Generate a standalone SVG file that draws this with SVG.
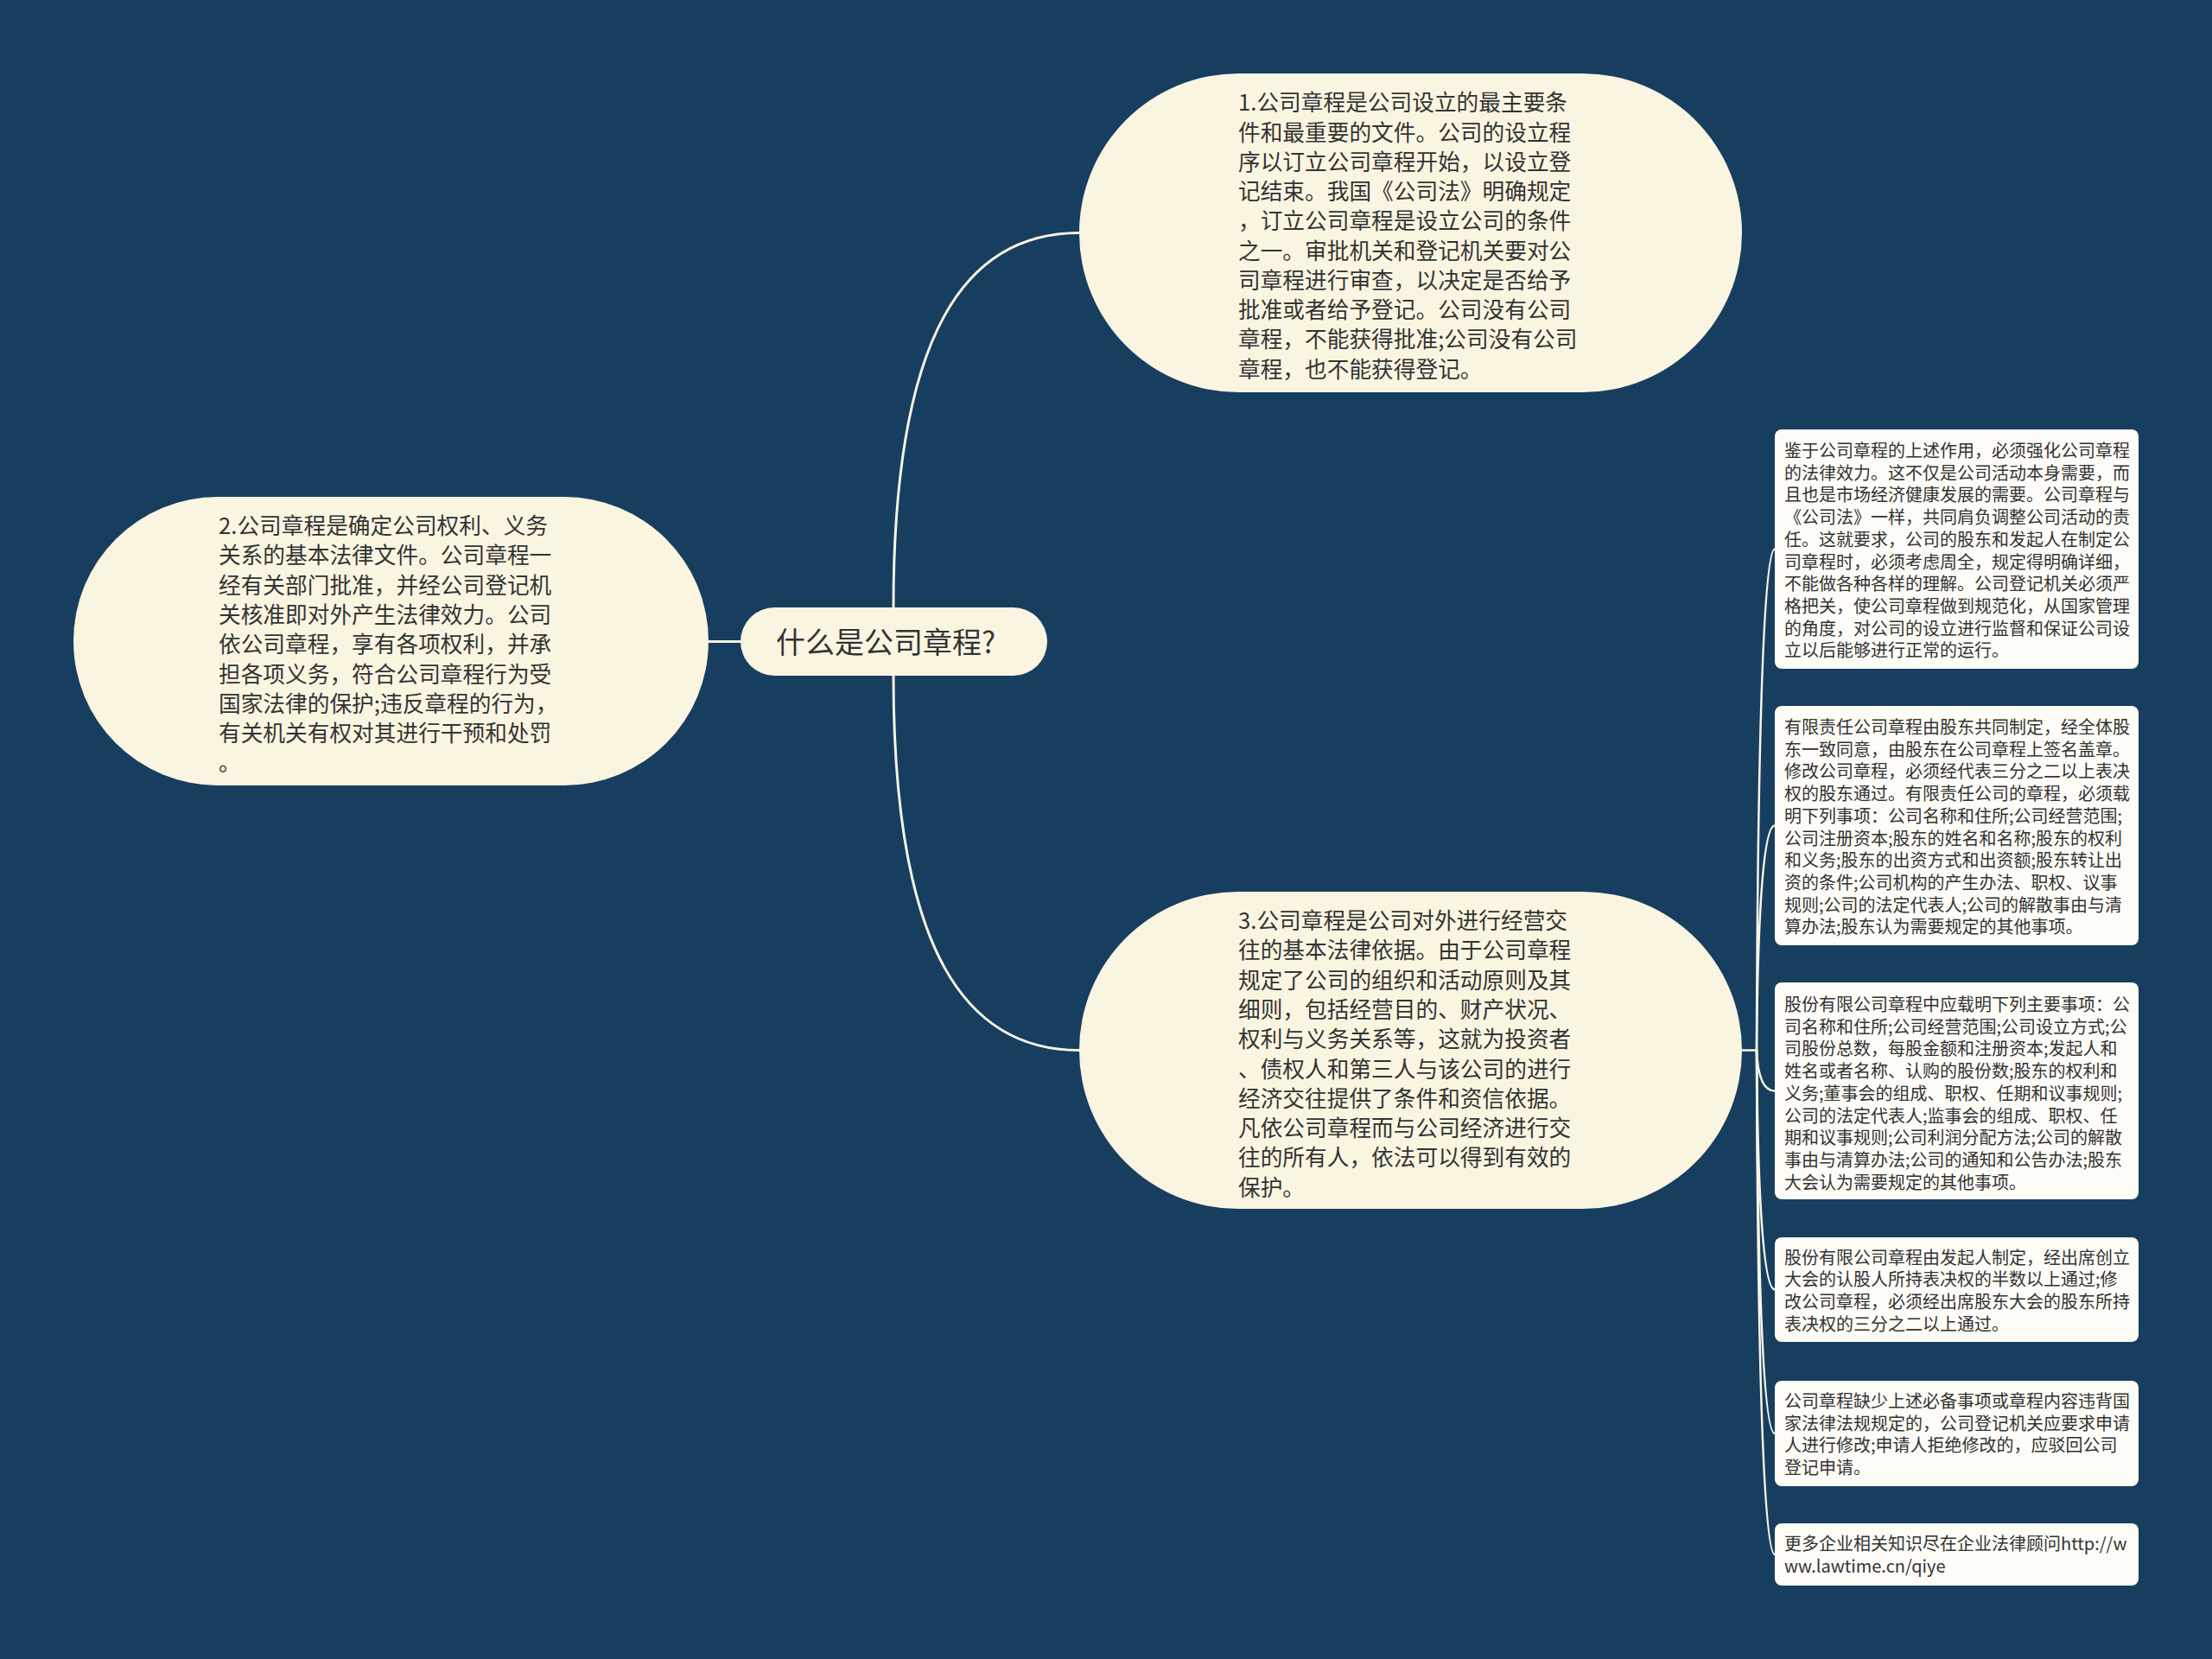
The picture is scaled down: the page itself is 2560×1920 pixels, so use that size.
<svg xmlns="http://www.w3.org/2000/svg" width="2560" height="1920" viewBox="0 0 2560 1920">
<style>
.bg{fill:#183e5f}
.node{fill:#faf5e1}
.leaf{fill:#fdfcf6}
.ln{fill:none;stroke:#f8f4e6;stroke-width:3;stroke-linecap:round}
.lf{fill:none;stroke:#f8f4e6;stroke-width:2.5;stroke-linecap:round}
text{font-family:"Noto Sans CJK SC","Noto Sans",sans-serif;fill:#333333}
.t26{font-size:25.7px}
.t34{font-size:34px}
.t20{font-size:20px}
</style>
<rect class="bg" x="0" y="0" width="2560" height="1920"/>
<g id="connectors">
<path class="ln" d="M1034,743 L1034,703 C1034,380 1120,269.5 1249,269.5"/>
<path class="ln" d="M1034,743 L1034,782 C1034,1105 1120,1215.5 1249,1215.5"/>
<path class="ln" d="M820,742.5 L857,742.5"/>
<path class="lf" d="M2016,1215.5 L2033,1215.5"/>
<path class="lf" d="M2033,1215.5 C2034,925 2039,635.5 2054,635.5"/>
<path class="lf" d="M2033,1215.5 C2034,1085 2039,955.5 2054,955.5"/>
<path class="lf" d="M2033,1215.5 C2034,1239 2039,1262.5 2054,1262.5"/>
<path class="lf" d="M2033,1215.5 C2034,1354 2039,1492.5 2054,1492.5"/>
<path class="lf" d="M2033,1215.5 C2034,1437 2039,1659 2054,1659"/>
<path class="lf" d="M2033,1215.5 C2034,1507 2039,1799 2054,1799"/>
</g>
<g id="root">
<rect class="node" x="857" y="703" width="355" height="79" rx="39.5"/>
<text class="t34" x="898" y="756">什么是公司章程?</text>
</g>
<g id="n1">
<rect class="node" x="1249" y="85" width="767" height="369" rx="184.5"/>
<text class="t26">
<tspan x="1433" y="128.3">1.公司章程是公司设立的最主要条</tspan>
<tspan x="1433" y="162.6">件和最重要的文件。公司的设立程</tspan>
<tspan x="1433" y="196.8">序以订立公司章程开始，以设立登</tspan>
<tspan x="1433" y="231.1">记结束。我国《公司法》明确规定</tspan>
<tspan x="1433" y="265.3">，订立公司章程是设立公司的条件</tspan>
<tspan x="1433" y="299.6">之一。审批机关和登记机关要对公</tspan>
<tspan x="1433" y="333.9">司章程进行审查，以决定是否给予</tspan>
<tspan x="1433" y="368.1">批准或者给予登记。公司没有公司</tspan>
<tspan x="1433" y="402.4">章程，不能获得批准;公司没有公司</tspan>
<tspan x="1433" y="436.6">章程，也不能获得登记。</tspan>
</text>
</g>
<g id="n2">
<rect class="node" x="85" y="575" width="735" height="334" rx="167"/>
<text class="t26">
<tspan x="253" y="618">2.公司章程是确定公司权利、义务</tspan>
<tspan x="253" y="652.3">关系的基本法律文件。公司章程一</tspan>
<tspan x="253" y="686.6">经有关部门批准，并经公司登记机</tspan>
<tspan x="253" y="720.9">关核准即对外产生法律效力。公司</tspan>
<tspan x="253" y="755.2">依公司章程，享有各项权利，并承</tspan>
<tspan x="253" y="789.5">担各项义务，符合公司章程行为受</tspan>
<tspan x="253" y="823.8">国家法律的保护;违反章程的行为，</tspan>
<tspan x="253" y="858.1">有关机关有权对其进行干预和处罚</tspan>
<tspan x="253" y="892.4">。</tspan>
</text>
</g>
<g id="n3">
<rect class="node" x="1249" y="1032" width="767" height="367" rx="183.5"/>
<text class="t26">
<tspan x="1433" y="1075">3.公司章程是公司对外进行经营交</tspan>
<tspan x="1433" y="1109.3">往的基本法律依据。由于公司章程</tspan>
<tspan x="1433" y="1143.6">规定了公司的组织和活动原则及其</tspan>
<tspan x="1433" y="1177.9">细则，包括经营目的、财产状况、</tspan>
<tspan x="1433" y="1212.2">权利与义务关系等，这就为投资者</tspan>
<tspan x="1433" y="1246.5">、债权人和第三人与该公司的进行</tspan>
<tspan x="1433" y="1280.8">经济交往提供了条件和资信依据。</tspan>
<tspan x="1433" y="1315.1">凡依公司章程而与公司经济进行交</tspan>
<tspan x="1433" y="1349.4">往的所有人，依法可以得到有效的</tspan>
<tspan x="1433" y="1383.7">保护。</tspan>
</text>
</g>
<g id="leaf1">
<rect class="leaf" x="2054" y="497" width="421" height="277" rx="8"/>
<text class="t20">
<tspan x="2065" y="529">鉴于公司章程的上述作用，必须强化公司章程</tspan>
<tspan x="2065" y="554.7">的法律效力。这不仅是公司活动本身需要，而</tspan>
<tspan x="2065" y="580.4">且也是市场经济健康发展的需要。公司章程与</tspan>
<tspan x="2065" y="606.1">《公司法》一样，共同肩负调整公司活动的责</tspan>
<tspan x="2065" y="631.8">任。这就要求，公司的股东和发起人在制定公</tspan>
<tspan x="2065" y="657.5">司章程时，必须考虑周全，规定得明确详细，</tspan>
<tspan x="2065" y="683.2">不能做各种各样的理解。公司登记机关必须严</tspan>
<tspan x="2065" y="708.9">格把关，使公司章程做到规范化，从国家管理</tspan>
<tspan x="2065" y="734.6">的角度，对公司的设立进行监督和保证公司设</tspan>
<tspan x="2065" y="760.3">立以后能够进行正常的运行。</tspan>
</text>
</g>
<g id="leaf2">
<rect class="leaf" x="2054" y="817" width="421" height="277" rx="8"/>
<text class="t20">
<tspan x="2065" y="849">有限责任公司章程由股东共同制定，经全体股</tspan>
<tspan x="2065" y="874.7">东一致同意，由股东在公司章程上签名盖章。</tspan>
<tspan x="2065" y="900.4">修改公司章程，必须经代表三分之二以上表决</tspan>
<tspan x="2065" y="926.1">权的股东通过。有限责任公司的章程，必须载</tspan>
<tspan x="2065" y="951.8">明下列事项：公司名称和住所;公司经营范围;</tspan>
<tspan x="2065" y="977.5">公司注册资本;股东的姓名和名称;股东的权利</tspan>
<tspan x="2065" y="1003.2">和义务;股东的出资方式和出资额;股东转让出</tspan>
<tspan x="2065" y="1028.9">资的条件;公司机构的产生办法、职权、议事</tspan>
<tspan x="2065" y="1054.6">规则;公司的法定代表人;公司的解散事由与清</tspan>
<tspan x="2065" y="1080.3">算办法;股东认为需要规定的其他事项。</tspan>
</text>
</g>
<g id="leaf3">
<rect class="leaf" x="2054" y="1137" width="421" height="251" rx="8"/>
<text class="t20">
<tspan x="2065" y="1170">股份有限公司章程中应载明下列主要事项：公</tspan>
<tspan x="2065" y="1195.7">司名称和住所;公司经营范围;公司设立方式;公</tspan>
<tspan x="2065" y="1221.4">司股份总数，每股金额和注册资本;发起人和</tspan>
<tspan x="2065" y="1247.1">姓名或者名称、认购的股份数;股东的权利和</tspan>
<tspan x="2065" y="1272.8">义务;董事会的组成、职权、任期和议事规则;</tspan>
<tspan x="2065" y="1298.5">公司的法定代表人;监事会的组成、职权、任</tspan>
<tspan x="2065" y="1324.2">期和议事规则;公司利润分配方法;公司的解散</tspan>
<tspan x="2065" y="1349.9">事由与清算办法;公司的通知和公告办法;股东</tspan>
<tspan x="2065" y="1375.6">大会认为需要规定的其他事项。</tspan>
</text>
</g>
<g id="leaf4">
<rect class="leaf" x="2054" y="1432" width="421" height="121" rx="8"/>
<text class="t20">
<tspan x="2065" y="1462.5">股份有限公司章程由发起人制定，经出席创立</tspan>
<tspan x="2065" y="1488.2">大会的认股人所持表决权的半数以上通过;修</tspan>
<tspan x="2065" y="1513.9">改公司章程，必须经出席股东大会的股东所持</tspan>
<tspan x="2065" y="1539.6">表决权的三分之二以上通过。</tspan>
</text>
</g>
<g id="leaf5">
<rect class="leaf" x="2054" y="1598" width="421" height="122" rx="8"/>
<text class="t20">
<tspan x="2065" y="1629">公司章程缺少上述必备事项或章程内容违背国</tspan>
<tspan x="2065" y="1654.7">家法律法规规定的，公司登记机关应要求申请</tspan>
<tspan x="2065" y="1680.4">人进行修改;申请人拒绝修改的，应驳回公司</tspan>
<tspan x="2065" y="1706.1">登记申请。</tspan>
</text>
</g>
<g id="leaf6">
<rect class="leaf" x="2054" y="1763" width="421" height="72" rx="8"/>
<text class="t20">
<tspan x="2065" y="1794">更多企业相关知识尽在企业法律顾问http://w</tspan>
<tspan x="2065" y="1819.7">ww.lawtime.cn/qiye</tspan>
</text>
</g>
</svg>
